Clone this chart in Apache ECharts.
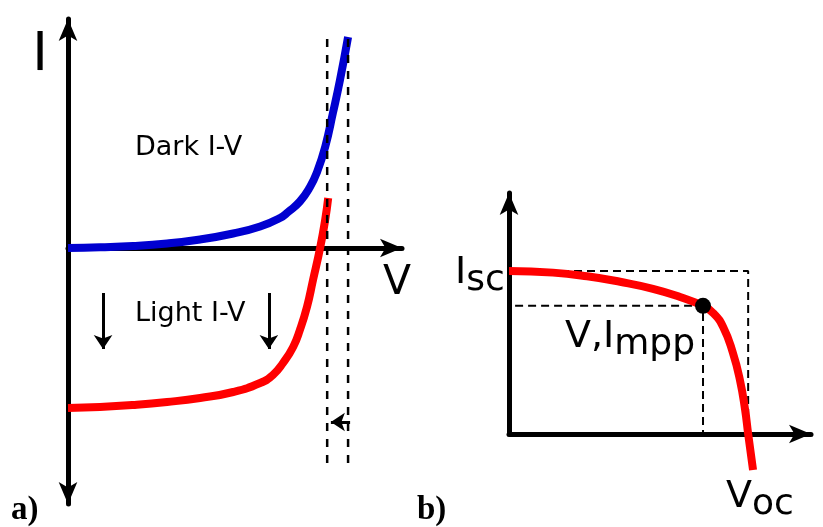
<!DOCTYPE html>
<html>
<head>
<meta charset="utf-8">
<script src="https://cdn.jsdelivr.net/npm/echarts@6/dist/echarts.min.js"></script>
<style>
  html, body { margin: 0; padding: 0; background: #fff; }
  #chart { width: 823px; height: 527px; }
</style>
</head>
<body>
<div id="chart"></div>
<script>
// Panel a): dark and illuminated I-V curves of a diode (arbitrary units)
const darkV  = [0, 0.95, 1.93, 2.94, 3.92, 4.90, 5.70, 6.29, 6.53, 6.88, 7.18, 7.39, 7.63, 7.86, 8.07, 8.31];
const darkI  = [0, 0.015, 0.04, 0.09, 0.17, 0.29, 0.43, 0.60, 0.72, 0.93, 1.22, 1.52, 2.02, 2.70, 3.36, 4.22];
const lightV = [0, 0.95, 1.93, 2.94, 3.92, 4.90, 5.70, 6.08, 6.38, 6.68, 6.88, 7.09, 7.27, 7.48, 7.63, 7.72];
const lightI = [-3.20, -3.18, -3.14, -3.08, -3.00, -2.88, -2.70, -2.54, -2.30, -1.98, -1.64, -1.18, -0.64, 0, 0.56, 1.00];
const vocMarks = [7.69, 8.31];          // open-circuit voltages, light and dark
const vocMarkRange = [-4.30, 4.24];     // vertical extent of the guide lines
const vocShift = { from: 8.37, to: 7.80, i: -3.48 };
const shiftArrowsV = [1.04, 5.96];      // photocurrent shift arrows
const shiftArrowsI = [-0.90, -2.02];

// Panel b): solar cell curve in the power quadrant
const cellV = [0, 1.44, 2.56, 3.64, 4.72, 5.61, 6.36, 6.69, 7.02, 7.34, 7.57, 7.74, 7.84, 8.00];
const cellI = [5.34, 5.29, 5.17, 4.99, 4.76, 4.49, 4.20, 3.97, 3.51, 2.66, 1.77, 0.79, 0, -1.18];
const isc = 5.34, voc = 7.84;
const vmpp = 6.36, impp = 4.20;

const zip = (xs, ys) => xs.map((x, k) => [x, ys[k]]);
const FONT = 'DejaVu Sans';
const axisCommon = {
  type: 'value',
  axisTick: { show: false },
  axisLabel: { show: false },
  splitLine: { show: false }
};
const axisLineStyle = { color: '#000', width: 5 };
const ARROW = [14, 22];

const dashedA = { color: '#000', width: 2.5, type: [8, 8] };
const dashedB = { color: '#000', width: 2, type: [8, 5] };

function segment(points, xi, style, z) {
  return {
    type: 'line', xAxisIndex: xi, yAxisIndex: xi, data: points,
    showSymbol: false, symbol: 'none', silent: true, z: z,
    lineStyle: style
  };
}
function curve(xs, ys, xi, color, extra) {
  return Object.assign({
    type: 'line', xAxisIndex: xi, yAxisIndex: xi, data: zip(xs, ys),
    smooth: 0.5, showSymbol: false, symbol: 'none', z: 3,
    lineStyle: { color: color, width: 8 }
  }, extra || {});
}

const series = [
  // a) curves
  curve(darkV, darkI, 0, '#0000d0'),
  curve(lightV, lightI, 0, '#ff0000'),
  ...vocMarks.map(v => segment([[v, vocMarkRange[0]], [v, vocMarkRange[1]]], 0, dashedA, 5)),
  { type: 'lines', coordinateSystem: 'cartesian2d', xAxisIndex: 0, yAxisIndex: 0, z: 6,
    symbol: ['none', 'arrow'], symbolSize: 14,
    lineStyle: { color: '#000', width: 3, opacity: 1 },
    data: [
      { coords: [[vocShift.from, vocShift.i], [vocShift.to, vocShift.i]] },
      ...shiftArrowsV.map(v => ({ coords: [[v, shiftArrowsI[0]], [v, shiftArrowsI[1]]] }))
    ] },
  // b) guide lines, curve and maximum power point
  segment([[0, isc], [voc, isc], [voc, 0]], 1, dashedB, 1),
  segment([[0.2, impp], [vmpp, impp], [vmpp, 0]], 1, dashedB, 1),
  curve(cellV, cellI, 1, '#ff0000', { clip: false }),
  { type: 'scatter', xAxisIndex: 1, yAxisIndex: 1, data: [[vmpp, impp]], symbolSize: 16,
    itemStyle: { color: '#000', opacity: 1 }, z: 4 }
];

function label(x, y, text, size, extra) {
  return {
    type: 'text', x: x, y: y, silent: true,
    style: Object.assign({ text: text, fontFamily: FONT, fontSize: size, fill: '#000',
      align: 'left', verticalAlign: 'middle' }, extra || {})
  };
}
function subLabel(x, y, main, sub, size, subSize, drop) {
  return {
    type: 'text', x: x, y: y, silent: true,
    style: {
      text: '{m|' + main + '}{s|' + sub + '}', fill: '#000', align: 'left', verticalAlign: 'middle',
      rich: {
        m: { fontFamily: FONT, fontSize: size, fill: '#000' },
        s: { fontFamily: FONT, fontSize: subSize, fill: '#000', padding: [drop * 2, 0, 0, 0] }
      }
    }
  };
}

const option = {
  animation: false,
  backgroundColor: '#fff',
  grid: [
    { left: 68, top: 19, width: 334, height: 485 },
    { left: 509, top: 193, width: 302, height: 241 }
  ],
  xAxis: [
    Object.assign({}, axisCommon, { gridIndex: 0, min: 0, max: 9.91,
      axisLine: { onZero: true, lineStyle: axisLineStyle, symbol: ['none', 'arrow'], symbolSize: ARROW } }),
    Object.assign({}, axisCommon, { gridIndex: 1, min: 0, max: 9.90,
      axisLine: { onZero: false, lineStyle: axisLineStyle, symbol: ['none', 'arrow'], symbolSize: ARROW } })
  ],
  yAxis: [
    Object.assign({}, axisCommon, { gridIndex: 0, min: -5.12, max: 4.58,
      axisLine: { onZero: false, lineStyle: axisLineStyle, symbol: ['arrow', 'arrow'], symbolSize: ARROW } }),
    Object.assign({}, axisCommon, { gridIndex: 1, min: 0, max: 7.90,
      axisLine: { onZero: false, lineStyle: axisLineStyle, symbol: ['none', 'arrow'], symbolSize: ARROW } })
  ],
  series: series,
  graphic: [
    label(40, 56, 'I', 53, { align: 'center' }),
    label(397, 283, 'V', 41, { align: 'center' }),
    label(135, 148, 'Dark I-V', 27),
    label(135, 314, 'Light I-V', 27),
    label(11, 510, 'a)', 33, { fontFamily: 'Liberation Serif', fontWeight: 'bold' }),
    label(417, 510, 'b)', 33, { fontFamily: 'Liberation Serif', fontWeight: 'bold' }),
    subLabel(455, 273, 'I', 'sc', 38, 36, 8),
    subLabel(565, 337, 'V,I', 'mpp', 38, 36, 8),
    subLabel(726, 497, 'V', 'oc', 38, 36, 8)
  ]
};

echarts.init(document.getElementById('chart'), null, { renderer: 'canvas' }).setOption(option);
</script>
</body>
</html>
